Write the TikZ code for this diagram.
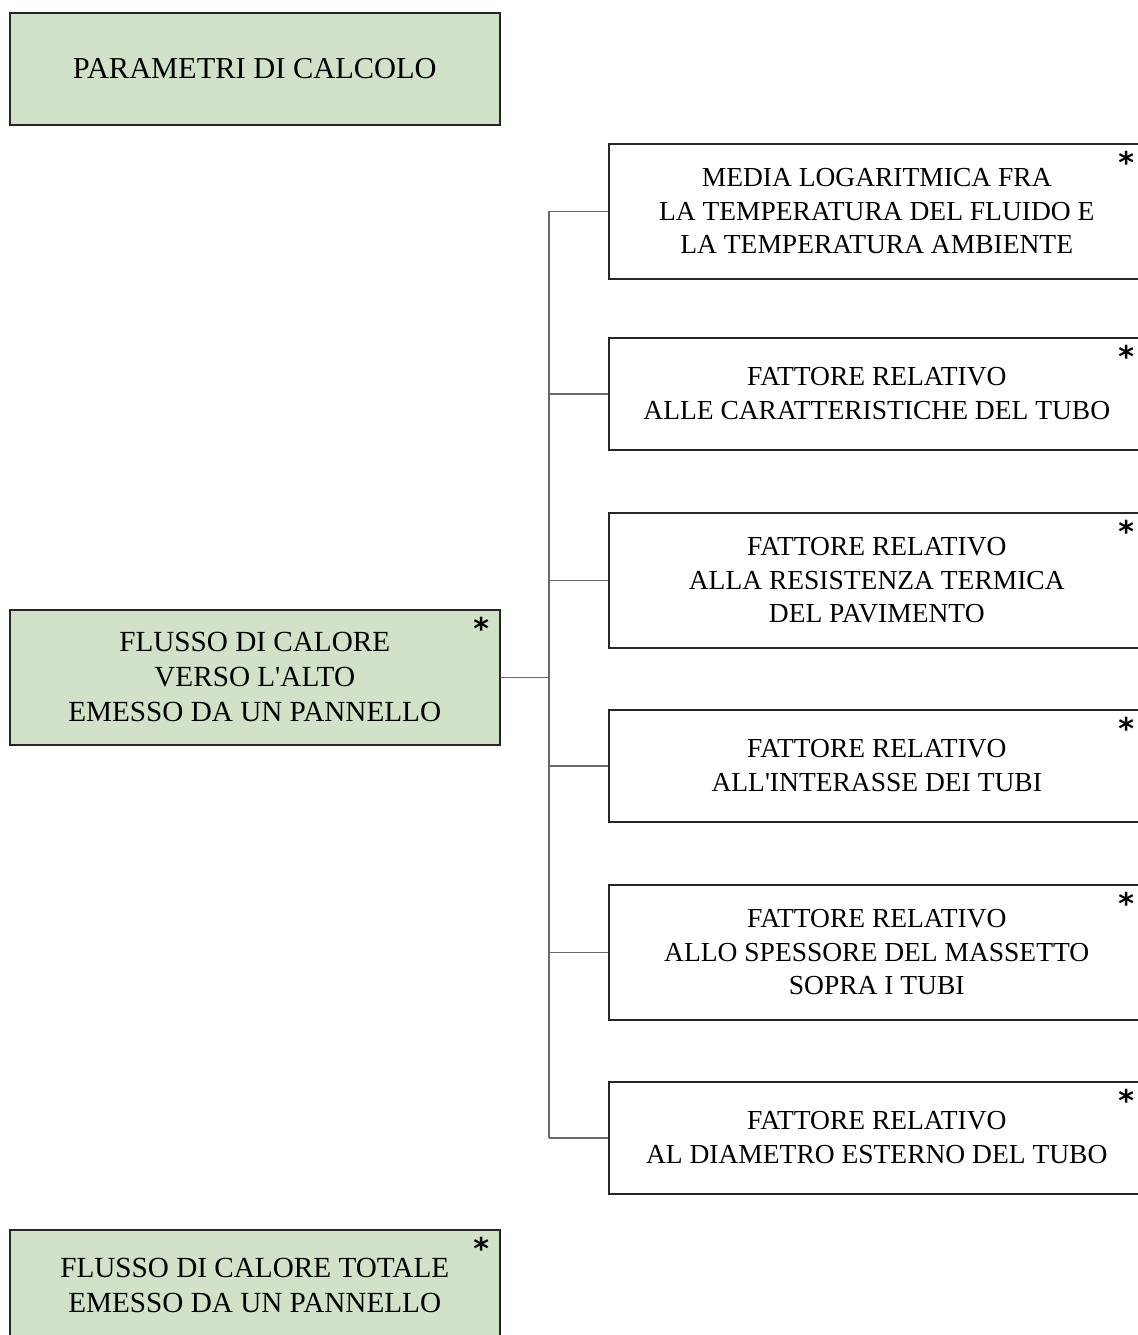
\documentclass[tikz,border=0pt]{standalone}
\usepackage{fontspec}
\setmainfont{Liberation Serif}[Ligatures=TeXOff]
\newfontfamily\starfont{DejaVu Sans}[UprightFont={* Bold}]
\usepackage{tikz}
\usetikzlibrary{positioning}

\definecolor{boxgreen}{RGB}{210,226,200}
\definecolor{linkgray}{RGB}{105,105,105}

\tikzset{
  leftbox/.style={draw=black!85, fill=boxgreen, line width=0.75pt, minimum width=245pt, inner sep=0pt,
                  align=center, font=\fontsize{14.6}{17.5}\selectfont},
  rightbox/.style={draw=black!85, line width=0.75pt, minimum width=268pt, inner sep=0pt,
                   align=center, font=\fontsize{13.75}{16.75}\selectfont},
  starred/.style={label={[anchor=north east, inner sep=0pt, xshift=-5.5pt, yshift=-4pt,
                  font=\starfont\fontsize{15}{15}\selectfont]north east:*}},
  link/.style={draw=linkgray, line width=0.75pt}
}

\begin{document}
\begin{tikzpicture}[x=0.5pt, y=-0.5pt]

    \useasboundingbox (0,0) rectangle (1137,1335);

    % left column
    \node[leftbox, minimum height=56pt, anchor=north west, font=\fontsize{15.2}{18}\selectfont] (param) at (9,12) {PARAMETRI DI CALCOLO};
    \node[leftbox, starred, minimum height=67.5pt, anchor=north west] (flusso) at (9,609) {FLUSSO DI CALORE\\VERSO L'ALTO\\EMESSO DA UN PANNELLO};
    \node[leftbox, starred, minimum height=56pt, anchor=north west] (totale) at (9,1229) {FLUSSO DI CALORE TOTALE\\EMESSO DA UN PANNELLO};

    % right column
    \node[rightbox, starred, minimum height=67.5pt, anchor=north west] (mlog) at (608,143) {MEDIA LOGARITMICA FRA\\LA TEMPERATURA DEL FLUIDO E\\LA TEMPERATURA AMBIENTE};
    \node[rightbox, starred, minimum height=56pt, anchor=north west] (tubo) at (608,337) {FATTORE RELATIVO\\ALLE CARATTERISTICHE DEL TUBO};
    \node[rightbox, starred, minimum height=67.5pt, anchor=north west] (resist) at (608,512) {FATTORE RELATIVO\\ALLA RESISTENZA TERMICA\\DEL PAVIMENTO};
    \node[rightbox, starred, minimum height=56pt, anchor=north west] (interasse) at (608,709) {FATTORE RELATIVO\\ALL'INTERASSE DEI TUBI};
    \node[rightbox, starred, minimum height=67.5pt, anchor=north west] (massetto) at (608,884) {FATTORE RELATIVO\\ALLO SPESSORE DEL MASSETTO\\SOPRA I TUBI};
    \node[rightbox, starred, minimum height=56pt, anchor=north west] (diam) at (608,1081) {FATTORE RELATIVO\\AL DIAMETRO ESTERNO DEL TUBO};

    % bus
    \coordinate (bus) at (549,0);

    \draw[link] (flusso.east) -- (flusso.east -| bus);
    \draw[link] (mlog.west -| bus) -- (diam.west -| bus);
    \foreach \b in {mlog,tubo,resist,interasse,massetto,diam}
        \draw[link] (\b.west) -- (\b.west -| bus);

\end{tikzpicture}
\end{document}
